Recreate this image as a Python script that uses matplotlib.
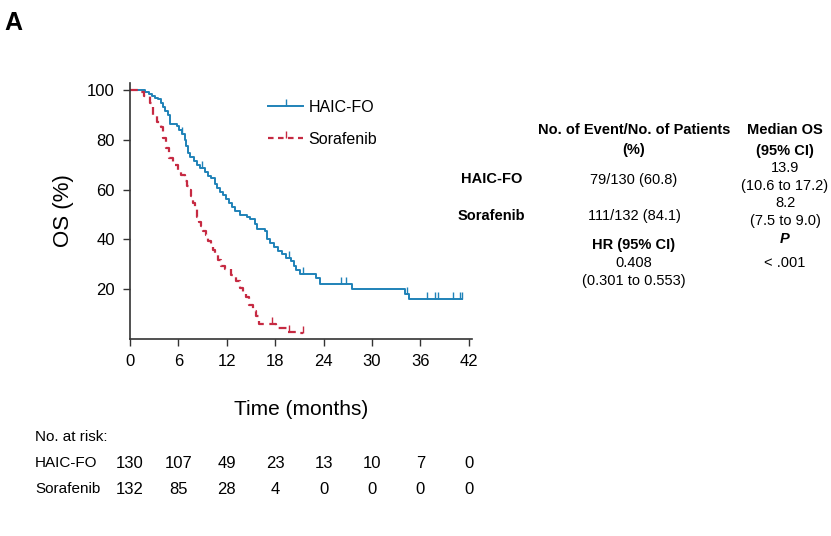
import matplotlib.pyplot as plt
from matplotlib.lines import Line2D

plt.rcParams['font.family'] = ['Liberation Sans', 'DejaVu Sans']

# Kaplan-Meier step data (month of drop, OS % after drop)
haic_t = [0, 1.9, 2.3, 2.7, 3.1, 3.5, 3.8, 4.1, 4.4, 4.7, 5.0, 5.8, 6.1, 6.4, 6.8, 7.0,
          7.2, 7.5, 7.9, 8.3, 8.7, 9.3, 9.7, 10.1, 10.5, 10.8, 11.1, 11.5, 11.9, 12.3,
          12.7, 13.0, 13.6, 14.5, 14.9, 15.5, 15.8, 16.8, 17.0, 17.4, 17.9, 18.3, 18.8,
          19.4, 19.9, 20.3, 20.6, 21.1, 23.0, 23.6, 27.5, 34.1, 34.6, 41.1]
haic_s = [100, 99.2, 98.5, 97.7, 96.9, 96.2, 94.6, 93.1, 91.5, 90.0, 86.2, 85.4, 83.8,
          82.3, 80.0, 77.7, 74.6, 73.1, 71.5, 70.0, 68.5, 66.9, 65.4, 64.6, 62.3, 60.8,
          59.2, 57.7, 56.2, 54.6, 53.1, 51.5, 50.0, 49.2, 48.0, 46.2, 44.2, 43.3, 40.0,
          38.5, 36.8, 35.4, 34.0, 32.7, 31.3, 29.5, 27.8, 26.0, 24.5, 22.2, 20.2, 18.0,
          16.2, 16.2]
haic_cens_t = [6.4, 8.9, 19.7, 21.5, 26.2, 26.8, 34.4, 36.8, 37.8, 38.2, 40.1, 40.9, 41.2]
haic_cens_s = [82.3, 68.5, 32.7, 26.0, 22.2, 22.2, 18.0, 16.2, 16.2, 16.2, 16.2, 16.2, 16.2]

sora_t = [0, 1.0, 1.7, 2.5, 2.9, 3.4, 3.9, 4.1, 4.5, 4.9, 5.3, 5.6, 6.0, 6.3, 6.8, 7.1,
          7.4, 7.6, 7.85, 8.1, 8.3, 8.6, 8.8, 9.1, 9.4, 9.7, 10.0, 10.3, 10.6, 10.9, 11.3,
          11.8, 12.5, 13.2, 13.6, 14.0, 14.4, 14.8, 15.2, 15.6, 16.0, 18.1, 19.5, 20.6, 21.5]
sora_s = [100, 99.2, 97.7, 94.7, 89.4, 87.1, 85.3, 80.7, 76.7, 72.7, 71.2, 70.0, 67.4,
          65.9, 63.6, 61.4, 60.0, 57.6, 54.5, 52.3, 49.2, 47.0, 45.5, 43.2, 41.7, 39.4,
          37.9, 35.6, 34.1, 31.8, 29.5, 28.0, 25.8, 23.5, 20.5, 18.9, 16.7, 13.6, 11.4,
          9.1, 6.1, 4.5, 3.0, 2.3, 2.3]
sora_cens_t = [17.6, 19.7, 21.4]
sora_cens_s = [6.1, 3.0, 2.3]

months = [0, 6, 12, 18, 24, 30, 36, 42]
risk_haic = [130, 107, 49, 23, 13, 10, 7, 0]
risk_sora = [132, 85, 28, 4, 0, 0, 0, 0]

blue = '#1f82b8'
red = '#c62a42'

fig = plt.figure(figsize=(8.31, 5.36), dpi=100)
ax = fig.add_axes([0.1564, 0.3675, 0.4116, 0.4776])

ax.step(haic_t, haic_s, where='post', color=blue, lw=1.4)
ax.plot(haic_cens_t, haic_cens_s, ls='none', marker=2, ms=5, mew=1.0, color=blue)
ax.step(sora_t, sora_s, where='post', color=red, lw=1.6, dashes=(3.5, 2.5))
ax.plot(sora_cens_t, sora_cens_s, ls='none', marker=2, ms=5, mew=1.0, color=red)

ax.set_xlim(0, 42.4)
ax.set_ylim(0, 102.8)
ax.set_xticks(months)
ax.set_yticks([20, 40, 60, 80, 100])
ax.tick_params(labelsize=12, length=5, width=1, color='#333333', pad=6)
for s in ['top', 'right']:
    ax.spines[s].set_visible(False)
for s in ['left', 'bottom']:
    ax.spines[s].set_color('#333333')
    ax.spines[s].set_linewidth(1.2)
ax.set_xlabel('Time (months)', fontsize=15, labelpad=22)
ax.set_ylabel('OS (%)', fontsize=16, labelpad=9)

handles = [Line2D([], [], color=blue, lw=1.4, marker=2, ms=5),
           Line2D([], [], color=red, lw=1.6, dashes=(2.5, 2.0), marker=2, ms=5)]
leg = ax.legend(handles, ['HAIC-FO', 'Sorafenib'], loc='upper left',
                bbox_to_anchor=(0.4035, 0.935), frameon=False, fontsize=11.5,
                borderpad=0, borderaxespad=0, handlelength=2.2, handletextpad=0.35,
                labelspacing=1.08, numpoints=1)

fig.text(4 / 831, 1 - 23 / 536, 'A', fontsize=18, fontweight='bold', ha='left', va='center')

# summary table on the right
c1, c2, cl = 634 / 831, 785 / 831, 491.5 / 831
def fy(py):
    return 1 - py / 536

tb = dict(fontsize=10.5, ha='center', va='center')
fig.text(c1, fy(130), 'No. of Event/No. of Patients', fontweight='bold', **tb)
fig.text(c1, fy(150), '(%)', fontweight='bold', **tb)
fig.text(c2, fy(130), 'Median OS', fontweight='bold', **tb)
fig.text(c2, fy(151), '(95% CI)', fontweight='bold', **tb)
fig.text(cl, fy(179), 'HAIC-FO', fontweight='bold', **tb)
fig.text(cl, fy(216), 'Sorafenib', fontweight='bold', **tb)
fig.text(c1, fy(180), '79/130 (60.8)', **tb)
fig.text(c1, fy(216), '111/132 (84.1)', **tb)
fig.text(c2, fy(168), '13.9', **tb)
fig.text(c2, fy(186), '(10.6 to 17.2)', **tb)
fig.text(c2, fy(203), '8.2', **tb)
fig.text(c2, fy(221), '(7.5 to 9.0)', **tb)
fig.text(c1, fy(245), 'HR (95% CI)', fontweight='bold', **tb)
fig.text(c1, fy(263), '0.408', **tb)
fig.text(c1, fy(281), '(0.301 to 0.553)', **tb)
fig.text(c2, fy(239), 'P', fontweight='bold', style='italic', **tb)
fig.text(c2, fy(263), '< .001', **tb)

# number at risk
trans = ax.get_xaxis_transform()
fig.text(35 / 831, fy(437), 'No. at risk:', fontsize=11, ha='left', va='center')
fig.text(35 / 831, fy(463), 'HAIC-FO', fontsize=11, ha='left', va='center')
fig.text(35 / 831, fy(489), 'Sorafenib', fontsize=11, ha='left', va='center')
y_h = (fy(463) - 0.3675) / 0.4776
y_s = (fy(489) - 0.3675) / 0.4776
for m, a, b in zip(months, risk_haic, risk_sora):
    ax.text(m, y_h, str(a), transform=trans, fontsize=12, ha='center', va='center', clip_on=False)
    ax.text(m, y_s, str(b), transform=trans, fontsize=12, ha='center', va='center', clip_on=False)

fig.savefig('out.png', dpi=100)
